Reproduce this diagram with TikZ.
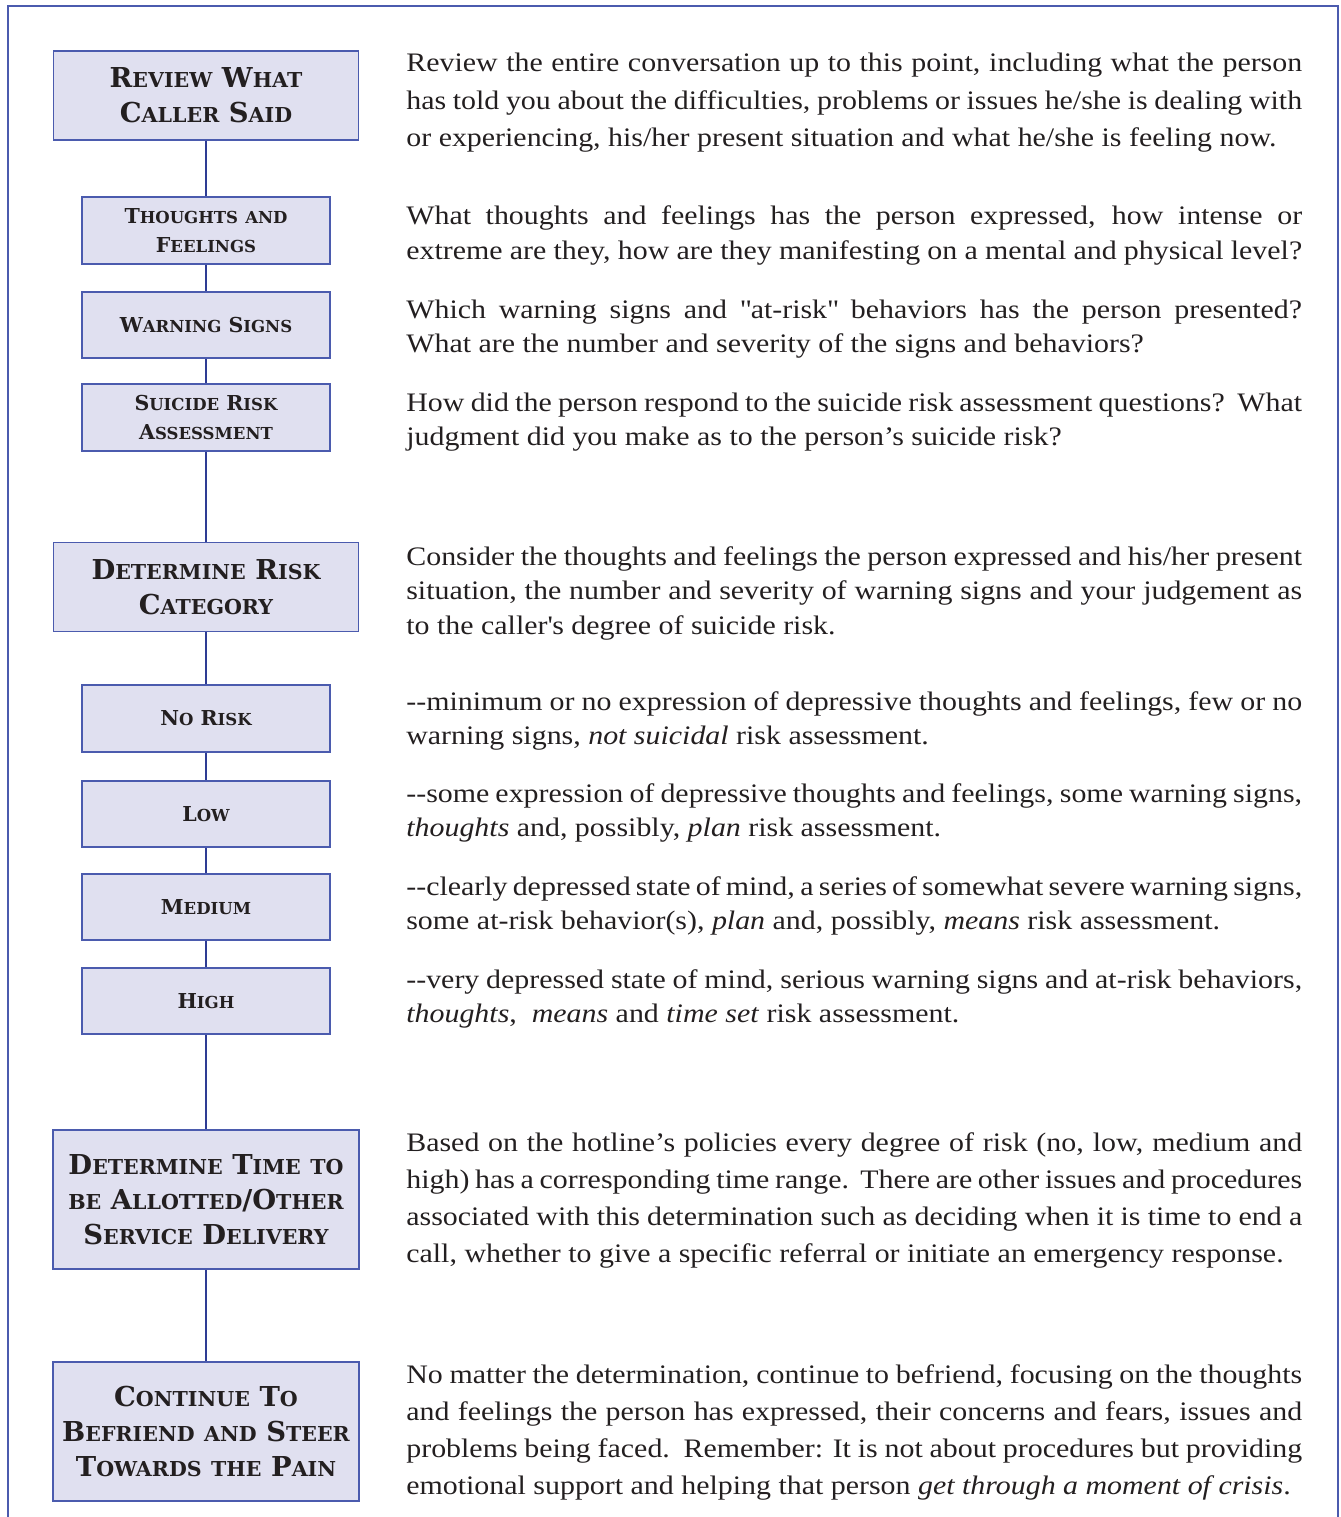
\documentclass[tikz,border=0pt]{standalone}
\usepackage{fontspec}
\setmainfont[FakeStretch=1.12]{Liberation Serif}
\newfontfamily\boxfont{DejaVu Serif}
\definecolor{boxfill}{HTML}{E0E0F0}
\definecolor{boxline}{HTML}{4B5BAE}
\definecolor{linkblue}{HTML}{2E3C94}
\definecolor{ink}{HTML}{231F20}
\newcommand\sw[2]{#1{\lowsz#2}}
\hyphenpenalty=10000
\tolerance=9999

\begin{document}
\begin{tikzpicture}[x=0.02cm,y=-0.02cm,
  bigbox/.style={draw=boxline,fill=boxfill,line width=1.1pt,minimum width=6.1cm,minimum height=1.78cm,
    align=center,text=ink,font={\boxfont\bfseries\fontsize{15.6}{19.9}\selectfont\def\lowsz{\fontsize{11.7}{19.9}\selectfont}}},
  tallbox/.style={bigbox,minimum width=6.12cm,minimum height=2.78cm},
  smallbox/.style={bigbox,minimum width=4.96cm,minimum height=1.33cm,
    font={\boxfont\bfseries\fontsize{11.7}{16.2}\selectfont\def\lowsz{\fontsize{9.4}{16.2}\selectfont}}},
  link/.style={draw=linkblue,line width=1.7pt},
  txt/.style={anchor=base west,inner sep=0pt,text width=17.92cm,align=justify,text=ink,
    font=\fontsize{15.2}{19.9}\selectfont},
  wide/.style={font=\fontsize{15.2}{21.2}\selectfont}]
\useasboundingbox (0,0) rectangle (1341,1517);
\draw[boxline,line width=1.5pt] (8,1517) -- (8,6) -- (1338,6) -- (1338,1517);

\node[bigbox] (review) at (206,95.5) {\sw{R}{EVIEW} \sw{W}{HAT}\\\sw{C}{ALLER} \sw{S}{AID}};
\node[smallbox] (thoughts) at (206,230.5) {\sw{T}{HOUGHTS} {\lowsz AND}\\\sw{F}{EELINGS}};
\node[smallbox] (warning) at (206,325) {\sw{W}{ARNING} \sw{S}{IGNS}};
\node[smallbox] (suicide) at (206,417.5) {\sw{S}{UICIDE} \sw{R}{ISK}\\\sw{A}{SSESSMENT}};
\node[bigbox] (riskcat) at (206,587) {\sw{D}{ETERMINE} \sw{R}{ISK}\\\sw{C}{ATEGORY}};
\node[smallbox] (norisk) at (206,718.5) {\sw{N}{O} \sw{R}{ISK}};
\node[smallbox] (low) at (206,814) {\sw{L}{OW}};
\node[smallbox] (medium) at (206,907) {\sw{M}{EDIUM}};
\node[smallbox] (high) at (206,1001) {\sw{H}{IGH}};
\node[tallbox] (timebox) at (206,1199.5) {\sw{D}{ETERMINE} \sw{T}{IME} {\lowsz TO}\\{\lowsz BE} \sw{A}{LLOTTED}/\sw{O}{THER}\\\sw{S}{ERVICE} \sw{D}{ELIVERY}};
\node[tallbox] (befriend) at (206,1431.5) {\sw{C}{ONTINUE} \sw{T}{O}\\\sw{B}{EFRIEND} {\lowsz AND} \sw{S}{TEER}\\\sw{T}{OWARDS} {\lowsz THE} \sw{P}{AIN}};

\draw[link] (review) -- (thoughts) -- (warning) -- (suicide) -- (riskcat) -- (norisk)
  -- (low) -- (medium) -- (high) -- (timebox) -- (befriend);

\node[txt,wide] (reviewtxt) at (406,72) {Review the entire conversation up to this point, including what the person\linebreak
  has told you about the difficulties, problems or issues he/she is dealing with\linebreak
  or experiencing, his/her present situation and what he/she is feeling now.};
\node[txt] (thoughtstxt) at (406,225) {What thoughts and feelings has the person expressed, how intense or\linebreak
  extreme are they, how are they manifesting on a mental and physical level?};
\node[txt] (warningtxt) at (406,318) {Which warning signs and \textquotedbl at-risk\textquotedbl{} behaviors has the person presented?\linebreak
  What are the number and severity of the signs and behaviors?};
\node[txt] (suicidetxt) at (406,411) {How did the person respond to the suicide risk assessment questions?\ \ What\linebreak
  judgment did you make as to the person’s suicide risk?};
\node[txt] (riskcattxt) at (406,565) {Consider the thoughts and feelings the person expressed and his/her present\linebreak
  situation, the number and severity of warning signs and your judgement as\linebreak
  to the caller\textquotesingle s degree of suicide risk.};
\node[txt] (norisktxt) at (406,710) {-{}-minimum or no expression of depressive thoughts and feelings, few or no\linebreak
  warning signs, \textit{not suicidal} risk assessment.};
\node[txt] (lowtxt) at (406,802) {-{}-some expression of depressive thoughts and feelings, some warning signs,\linebreak
  \textit{thoughts} and, possibly, \textit{plan} risk assessment.};
\node[txt] (mediumtxt) at (406,895) {-{}-clearly depressed state of mind, a series of somewhat severe warning signs,\linebreak
  some at-risk behavior(s), \textit{plan} and, possibly, \textit{means} risk assessment.};
\node[txt] (hightxt) at (406,988) {-{}-very depressed state of mind, serious warning signs and at-risk behaviors,\linebreak
  \textit{thoughts},\ \ \textit{means} and \textit{time set} risk assessment.};
\node[txt,wide] (timetxt) at (406,1151) {Based on the hotline’s policies every degree of risk (no, low, medium and\linebreak
  high) has a corresponding time range.\ \ There are other issues and procedures\linebreak
  associated with this determination such as deciding when it is time to end a\linebreak
  call, whether to give a specific referral or initiate an emergency response.};
\node[txt,wide] (befriendtxt) at (406,1383) {No matter the determination, continue to befriend, focusing on the thoughts\linebreak
  and feelings the person has expressed, their concerns and fears, issues and\linebreak
  problems being faced.\ \ Remember: It is not about procedures but providing\linebreak
  emotional support and helping that person \textit{get through a moment of crisis}.};
\end{tikzpicture}
\end{document}
